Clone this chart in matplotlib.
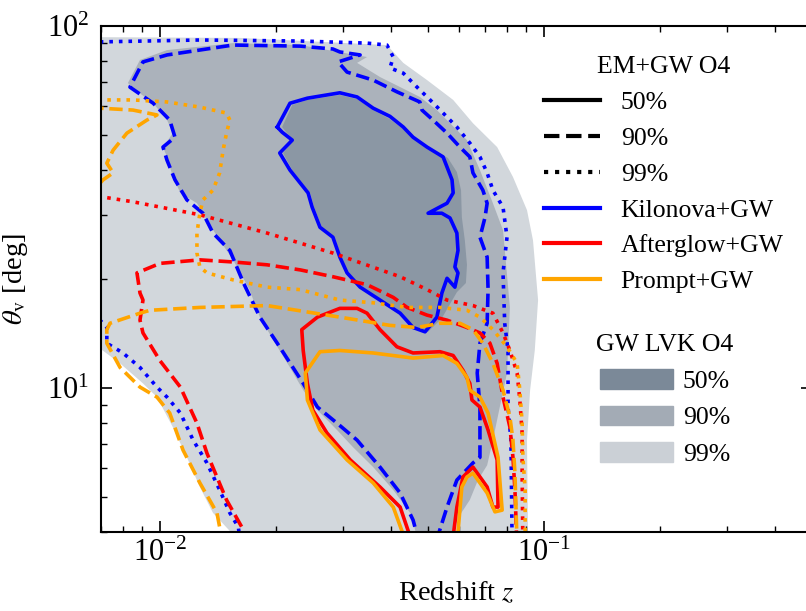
import matplotlib
matplotlib.use("Agg")
import matplotlib.pyplot as plt
from matplotlib.lines import Line2D
from matplotlib.patches import Patch

plt.rcParams['font.family'] = ['Liberation Serif', 'DejaVu Serif']
plt.rcParams['mathtext.fontset'] = 'stix'

# GW LVK O4 credible regions (filled)
gw99_z = [0.0065, 0.0162, 0.0390, 0.0430, 0.0496, 0.0580, 0.0653, 0.0755, 0.0830, 0.0903, 0.0936,
          0.0965, 0.0946, 0.0920, 0.0903, 0.0909, 0.0160, 0.01374, 0.0127, 0.01175, 0.0108, 0.00982,
          0.00903, 0.00787, 0.0065]
gw99_t = [93.2, 92.7, 88.6, 79.1, 70.9, 62.5, 53.9, 46.3, 38.3, 31.0, 25.6, 17.5, 12.7, 9.87, 7.18,
          3.8, 3.8, 4.52, 5.33, 6.44, 7.80, 9.44, 10.3, 11.7, 13.6]

gw90_z = [0.00825, 0.00887, 0.01043, 0.01549, 0.0232, 0.0346, 0.0326, 0.0374, 0.0475, 0.0526, 0.0630,
          0.0681, 0.0736, 0.0782, 0.0815, 0.0801, 0.0767, 0.0736, 0.0711, 0.0673, 0.0641, 0.0604,
          0.0560, 0.0470, 0.0448, 0.0405, 0.0359, 0.0318, 0.0289, 0.0257, 0.0236, 0.0218, 0.0197,
          0.0182, 0.0171, 0.0155, 0.0143, 0.01325, 0.01248, 0.0113, 0.0108, 0.01043, 0.01018, 0.0108,
          0.01043, 0.0096, 0.0085]
gw90_t = [69.6, 80.6, 85.8, 89.7, 88.6, 82.1, 79.1, 72.3, 63.7, 58.6, 48.4, 40.0, 32.4, 27.3, 16.7,
          11.0, 8.86, 7.18, 6.12, 5.57, 4.91, 4.46, 3.8, 3.8, 4.52, 5.23, 6.05, 6.87, 7.66, 8.69, 9.87,
          11.4, 13.6, 15.7, 18.7, 22.6, 25.6, 29.1, 32.4, 34.6, 38.3, 43.5, 46.3, 50.6, 55.0, 61.2, 67.4]

gw50_z = [0.0208, 0.0221, 0.0242, 0.0294, 0.0326, 0.0359, 0.0397, 0.0430, 0.0462, 0.0505, 0.0562,
          0.0593, 0.0608, 0.0611, 0.0622, 0.0630, 0.0626, 0.0593, 0.0542, 0.0499, 0.0462, 0.0422,
          0.0374, 0.0332, 0.0307, 0.0296, 0.0287, 0.0264, 0.0252, 0.0246, 0.0234, 0.0221, 0.0209,
          0.0223, 0.0213]
gw50_t = [52.6, 60.5, 62.5, 64.5, 62.8, 58.6, 55.3, 51.9, 48.7, 46.0, 43.2, 39.5, 35.2, 29.6, 25.6,
          21.9, 19.5, 18.4, 15.6, 14.3, 14.7, 15.9, 17.3, 18.8, 20.5, 22.9, 25.6, 27.8, 31.6, 34.6,
          36.8, 40.0, 44.6, 48.4, 50.9]

# Kilonova + GW
kn50_z = [0.0202, 0.0218, 0.0242, 0.0294, 0.0326, 0.0359, 0.0397, 0.0430, 0.0456, 0.0496, 0.0546,
          0.0559, 0.0576, 0.0580, 0.0559, 0.0499, 0.0542, 0.0569, 0.0593, 0.0597, 0.0586, 0.0597,
          0.0586, 0.0559, 0.0542, 0.0526, 0.0490, 0.0456, 0.0422, 0.0374, 0.0332, 0.0307, 0.0294,
          0.0282, 0.0261, 0.0249, 0.0243, 0.0232, 0.0218, 0.0205, 0.0221, 0.0208, 0.0202]
kn50_t = [52.6, 61.2, 63.2, 65.4, 63.7, 59.3, 56.3, 52.6, 49.3, 46.3, 43.5, 40.8, 37.6, 34.6, 32.4,
          30.4, 30.4, 29.5, 26.8, 24.0, 21.6, 20.8, 19.0, 20.1, 18.3, 15.7, 14.3, 14.7, 16.1, 17.5,
          19.0, 20.8, 23.0, 26.1, 27.8, 31.6, 34.6, 36.8, 40.0, 44.6, 48.4, 50.9, 52.6]

kn90_z = [0.0475, 0.0456, 0.0422, 0.0374, 0.0326, 0.0289, 0.0257, 0.0236, 0.0202, 0.0182, 0.0165,
          0.0152, 0.01374, 0.01294, 0.01175, 0.01094, 0.01043, 0.01018, 0.01094, 0.0106, 0.0096,
          0.00835, 0.00903, 0.01043, 0.01549, 0.0232, 0.0282, 0.0294, 0.0332, 0.0291, 0.0307, 0.0359,
          0.0414, 0.0475, 0.0481, 0.0514, 0.0559, 0.0604, 0.0641, 0.0653, 0.0693, 0.0711, 0.0702,
          0.0681, 0.0711, 0.0715, 0.0711, 0.0681, 0.0670, 0.0681, 0.0681, 0.0653, 0.0593, 0.0559, 0.0520]
kn90_t = [3.68, 4.32, 5.13, 6.05, 7.18, 8.00, 8.86, 10.3, 13.3, 15.7, 19.5, 24.0, 26.8, 30.4, 33.1,
          37.6, 42.6, 46.3, 49.3, 55.0, 61.2, 67.8, 79.6, 83.2, 88.6, 88.0, 86.4, 84.8, 83.2, 79.6,
          74.6, 70.9, 65.8, 61.7, 58.6, 55.0, 50.6, 46.3, 43.5, 39.3, 35.2, 32.4, 29.6, 26.1, 23.0,
          18.7, 15.1, 13.3, 11.0, 8.86, 6.44, 6.21, 5.57, 4.69, 3.68]

kn99_z = [0.00658, 0.0127, 0.0232, 0.0346, 0.0390, 0.0405, 0.0397, 0.0430, 0.0467, 0.0505, 0.0546,
          0.0593, 0.0641, 0.0681, 0.0711, 0.0736, 0.0782, 0.0801, 0.0782, 0.0790, 0.0806, 0.0806,
          0.0820, 0.0822, 0.0826, 0.0162, 0.0160, 0.0152, 0.0143, 0.01325, 0.0122, 0.0113, 0.01043,
          0.00982, 0.00887, 0.00801, 0.00727, 0.00727, 0.00698, 0.00658]
kn99_t = [90.3, 91.5, 90.9, 89.7, 88.6, 82.1, 76.6, 74.1, 67.8, 62.5, 57.5, 52.6, 47.5, 43.5, 39.3,
          35.2, 31.6, 26.1, 20.8, 15.1, 12.7, 8.86, 7.18, 5.82, 3.68, 3.68, 4.13, 4.52, 5.23, 6.21,
          7.18, 8.53, 9.44, 10.06, 11.4, 12.5, 13.3, 14.7, 15.4, 15.6]

# Afterglow + GW
ag50_z = [0.0456, 0.0422, 0.0374, 0.0313, 0.0272, 0.0250, 0.0242, 0.0236, 0.0234, 0.0257, 0.0294,
          0.0326, 0.0346, 0.0374, 0.0414, 0.0456, 0.0536, 0.0580, 0.0615, 0.0641, 0.0649, 0.0681,
          0.0715, 0.0755, 0.0759, 0.0736, 0.0711, 0.0653, 0.0615, 0.0593, 0.0576]
ag50_t = [3.68, 4.69, 5.33, 6.33, 7.52, 8.69, 10.3, 12.7, 14.5, 15.7, 16.6, 16.6, 16.1, 14.5, 13.0,
          12.5, 12.6, 12.3, 11.2, 10.3, 9.27, 8.86, 7.66, 6.33, 4.69, 4.69, 5.33, 6.05, 5.68, 4.69, 3.68]

ag90_z = [0.0166, 0.0165, 0.0149, 0.01325, 0.01248, 0.0113, 0.0100, 0.00903, 0.00887, 0.00903,
          0.00887, 0.00871, 0.0100, 0.0127, 0.01549, 0.0190, 0.0232, 0.0282, 0.0346, 0.0405, 0.0440,
          0.0496, 0.0559, 0.0630, 0.0681, 0.0723, 0.0755, 0.0782, 0.0815, 0.0830, 0.0840, 0.0850]
ag90_t = [3.68, 4.05, 4.91, 6.61, 8.00, 10.06, 11.9, 14.2, 15.4, 17.5, 18.3, 20.8, 22.1, 22.6, 22.3,
          21.9, 21.2, 20.3, 19.3, 17.8, 16.7, 15.9, 15.4, 14.7, 14.2, 13.3, 11.7, 9.44, 7.80, 6.44,
          5.23, 3.68]

ag99_z = [0.0065, 0.00698, 0.0085, 0.0127, 0.0190, 0.0282, 0.0422, 0.0496, 0.0559, 0.0653, 0.0736,
          0.0782, 0.0815, 0.0851, 0.0865, 0.0877, 0.0877, 0.0881]
ag99_t = [33.9, 33.8, 32.7, 30.1, 26.8, 23.6, 20.3, 18.7, 17.5, 16.9, 16.1, 14.2, 12.7, 11.0, 9.27,
          7.52, 5.82, 3.68]

# Prompt + GW
pr50_z = [0.0440, 0.0405, 0.0359, 0.0307, 0.0261, 0.0242, 0.0239, 0.0261, 0.0294, 0.0359, 0.0456,
          0.0546, 0.0593, 0.0630, 0.0641, 0.0681, 0.0715, 0.0759, 0.0778, 0.0745, 0.0711, 0.0653,
          0.0630, 0.0611, 0.0593]
pr50_t = [3.68, 4.69, 5.47, 6.33, 7.66, 9.27, 11.0, 12.6, 12.7, 12.5, 12.1, 12.3, 11.7, 10.7, 9.87,
          9.44, 8.53, 6.44, 4.60, 4.55, 5.13, 5.82, 5.68, 5.33, 3.68]

pr90_z = [0.0146, 0.01407, 0.0127, 0.01148, 0.0106, 0.00982, 0.00887, 0.00787, 0.00727, 0.00727,
          0.00741, 0.00887, 0.00942, 0.0127, 0.0190, 0.0294, 0.0397, 0.0467, 0.0536, 0.0604, 0.0653,
          0.0693, 0.0736, 0.0782, 0.0815, 0.0830, 0.0840, 0.0851]
pr90_t = [3.68, 4.52, 5.47, 6.74, 8.53, 9.44, 10.06, 11.4, 13.3, 14.5, 15.1, 16.1, 16.4, 16.7, 16.9,
          15.7, 14.9, 14.7, 15.1, 15.1, 14.5, 13.3, 11.7, 9.87, 8.32, 7.18, 5.82, 3.68]
pr90b_z = [0.00658, 0.00698, 0.0085, 0.00982, 0.00925, 0.0082, 0.00755, 0.00727, 0.00755, 0.00711,
           0.00698, 0.00658]
pr90b_t = [59.3, 59.3, 58.6, 56.8, 55.0, 50.6, 45.4, 41.8, 39.3, 37.6, 36.8, 36.6]

pr99_z = [0.0065, 0.0085, 0.01043, 0.0127, 0.0149, 0.0152, 0.0149, 0.0146, 0.0143, 0.01374, 0.01294,
          0.0127, 0.01248, 0.01248, 0.0127, 0.01325, 0.01549, 0.0190, 0.0232, 0.0294, 0.0359, 0.0440,
          0.0536, 0.0630, 0.0681, 0.0736, 0.0801, 0.0851, 0.0865, 0.0877, 0.0881, 0.0893, 0.0893]
pr99_t = [62.5, 62.5, 61.7, 59.7, 57.5, 55.0, 50.6, 45.4, 39.3, 35.2, 33.1, 30.4, 26.8, 23.6, 21.6,
          20.8, 19.9, 19.0, 18.7, 17.5, 17.2, 16.7, 16.7, 16.4, 15.7, 14.5, 13.0, 11.7, 9.87, 8.00,
          6.44, 5.23, 3.68]

blue, red, orange = '#0000ff', '#ff0000', '#ffa500'
lw = 2.6

fig = plt.figure(figsize=(8.06, 6.11), dpi=100)
ax = fig.add_axes([0.1247, 0.1291, 0.8833, 0.8283])

ax.fill(gw99_z, gw99_t, color='#d2d7dc', lw=0)
ax.fill(gw90_z, gw90_t, color='#abb2bb', lw=0)
ax.fill(gw50_z, gw50_t, color='#8b97a4', lw=0)

ax.plot(kn50_z, kn50_t, color=blue, ls='-', lw=lw)
ax.plot(kn90_z, kn90_t, color=blue, ls='--', lw=lw)
ax.plot(kn99_z, kn99_t, color=blue, ls=':', lw=lw)
ax.plot(ag50_z, ag50_t, color=red, ls='-', lw=lw)
ax.plot(ag90_z, ag90_t, color=red, ls='--', lw=lw)
ax.plot(ag99_z, ag99_t, color=red, ls=':', lw=lw)
ax.plot(pr50_z, pr50_t, color=orange, ls='-', lw=lw)
ax.plot(pr90_z, pr90_t, color=orange, ls='--', lw=lw)
ax.plot(pr90b_z, pr90b_t, color=orange, ls='--', lw=lw)
ax.plot(pr99_z, pr99_t, color=orange, ls=':', lw=lw)

ax.set_xscale('log')
ax.set_yscale('log')
ax.set_xlim(0.007, 0.5)
ax.set_ylim(4, 100)
ax.set_xlabel('Redshift $z$', fontsize=20.5, labelpad=9)
ax.set_ylabel(r'$\theta_{\rm v}$ [deg]', fontsize=20.5, labelpad=12)
ax.tick_params(which='both', direction='in', top=True, right=True, labelsize=22)
ax.tick_params(which='major', length=8, width=1.2)
ax.tick_params(which='minor', length=4.5, width=1)
ax.tick_params(axis='y', pad=8)
ax.tick_params(axis='x', pad=5)
for s in ax.spines.values():
    s.set_linewidth(1.5)

# legends
em_handles = [Line2D([], [], color='k', ls='-', lw=3),
              Line2D([], [], color='k', ls='--', lw=3),
              Line2D([], [], color='k', ls=':', lw=3),
              Line2D([], [], color=blue, lw=3),
              Line2D([], [], color=red, lw=3),
              Line2D([], [], color=orange, lw=3)]
em_labels = ['50%', '90%', '99%', 'Kilonova+GW', 'Afterglow+GW', 'Prompt+GW']
leg1 = ax.legend(em_handles, em_labels, title='EM+GW O4', loc='upper left',
                 bbox_to_anchor=(0.590, 0.986), frameon=False, fontsize=18.5,
                 title_fontsize=18.5, handlelength=2.2)
ax.add_artist(leg1)

gw_handles = [Patch(color='#7b8998'), Patch(color='#a3abb5'), Patch(color='#cbd0d6')]
gw_labels = ['50%', '90%', '99%']
ax.legend(gw_handles, gw_labels, title='GW LVK O4', loc='upper left',
          bbox_to_anchor=(0.664, 0.437), frameon=False, fontsize=18.5,
          title_fontsize=18.5, handlelength=2.84, handleheight=0.8, handletextpad=0.4)

fig.savefig('out.png', dpi=100)
